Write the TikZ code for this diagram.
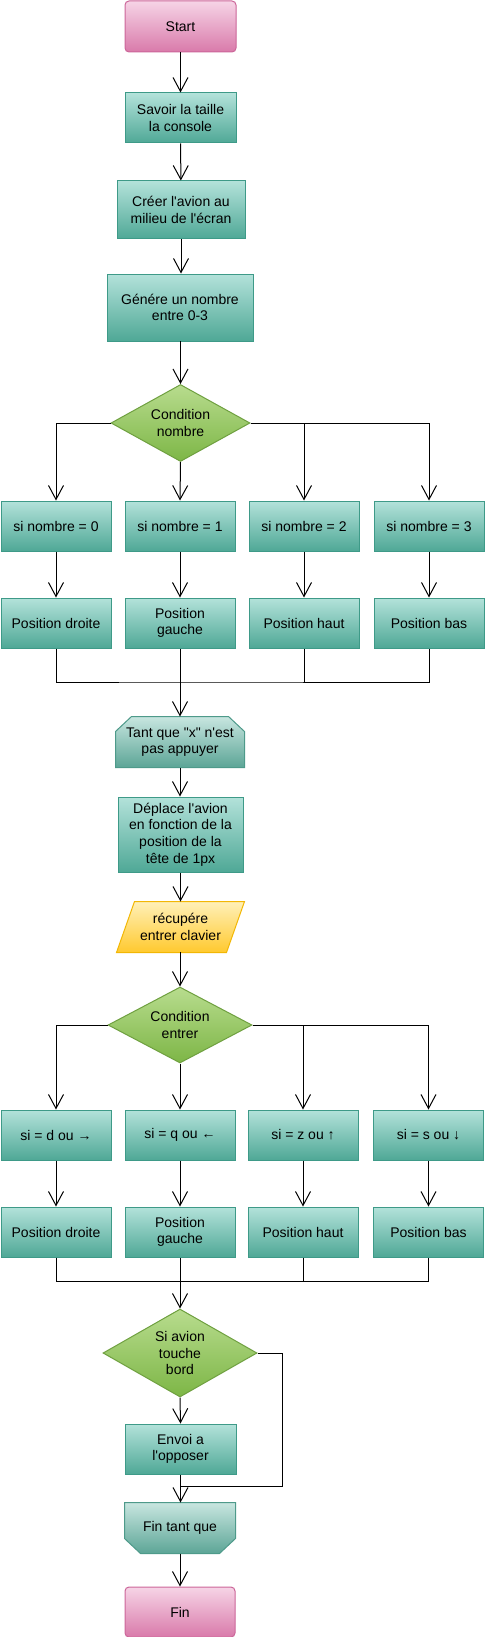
\documentclass[tikz,border=0pt]{standalone}
\usepackage{fontspec}
\setmainfont{Liberation Sans}
\usetikzlibrary{arrows.meta,shapes.geometric}
\pgfdeclarelayer{bg}
\pgfsetlayers{bg,main}
\definecolor{procT}{HTML}{B3E2DA}
\definecolor{procBot}{HTML}{4FA896}
\definecolor{procB}{HTML}{3E9A88}
\definecolor{termT}{HTML}{F6D4E6}
\definecolor{termBot}{HTML}{D97AAA}
\definecolor{termB}{HTML}{CC6699}
\definecolor{decT}{HTML}{B8DC8E}
\definecolor{decBot}{HTML}{7DB646}
\definecolor{decB}{HTML}{6FA040}
\definecolor{ioT}{HTML}{FFF0B8}
\definecolor{ioBot}{HTML}{FFC92E}
\definecolor{ioB}{HTML}{F2B705}
\definecolor{loopT}{HTML}{C8E6E0}
\definecolor{loopBot}{HTML}{5CA596}
\definecolor{loopB}{HTML}{4E9A8A}
\newcommand{\fsz}{\fontsize{10.5pt}{12.4pt}\selectfont}
\newcommand{\apo}{\textquotesingle}
\tikzset{
 sz/.style 2 args={minimum width=#1*0.75pt, minimum height=#2*0.75pt},
 base/.style={inner sep=0pt, align=center, font=\fsz, line width=0.75pt},
 proc/.style={base, rectangle, draw=procB, top color=procT, bottom color=procBot},
 term/.style={base, rectangle, rounded corners=3pt, draw=termB, top color=termT, bottom color=termBot},
 dec/.style={base, diamond, draw=decB, top color=decT, bottom color=decBot},
 lbl/.style={base, rectangle},
 loopsh/.style={line width=0.75pt, draw=loopB, top color=loopT, bottom color=loopBot},
 iosh/.style={line width=0.75pt, draw=ioB, top color=ioT, bottom color=ioBot},
 flow/.style={line width=0.75pt, -{Straight Barb[length=10.5pt,width=11.25pt]}},
 link/.style={line width=0.75pt},
}
\begin{document}
\begin{tikzpicture}[x=0.75pt,y=-0.75pt]
\useasboundingbox (0,0) rectangle (485,1637);
% top part
\node[term, sz={111}{51}] (start) at (180.5,26.5) {Start};
\node[proc, sz={111}{50}] (savoir) at (180.5,118) {Savoir la taille\\la console};
\node[proc, sz={128}{58}] (creer) at (181,210) {Créer l\apo avion au\\milieu de l\apo écran};
\node[proc, sz={146}{67}] (genere) at (180,307.5) {Génére un nombre\\entre 0-3};
\node[dec, sz={139}{77}, aspect=1.8] (cond1) at (180.5,423) {Condition\\nombre};
% si nombre row
\node[proc, sz={110}{50}] (a0) at (56,526) {si nombre = 0};
\node[proc, sz={110}{50}] (a1) at (180,526) {si nombre = 1};
\node[proc, sz={110}{50}] (a2) at (304,526) {si nombre = 2};
\node[proc, sz={110}{50}] (a3) at (429,526) {si nombre = 3};
\node[proc, sz={110}{50}] (p0) at (56,623) {Position droite};
\node[proc, sz={110}{50}] (p1) at (180,623) {Position\\gauche};
\node[proc, sz={110}{50}] (p2) at (304,623) {Position haut};
\node[proc, sz={110}{50}] (p3) at (429,623) {Position bas};
\coordinate (m1) at (180,682);
% loop
\node[lbl, sz={128}{50}] (tant) at (180,742) {Tant que \textquotedbl x\textquotedbl\ n\apo est\\pas appuyer};
\node[proc, sz={125}{75}] (deplace) at (180.5,834.5) {Déplace l\apo avion\\en fonction de la\\position de la\\tête de 1px};
\node[lbl, sz={127}{50}] (recup) at (180.5,927) {récupére\\entrer clavier};
\node[dec, sz={144}{76}, aspect=1.9] (cond2) at (180,1025) {Condition\\entrer};
\node[proc, sz={110}{50}] (b0) at (56,1135) {si = d ou →};
\node[proc, sz={110}{50}] (b1) at (180,1135) {si = q ou ←};
\node[proc, sz={110}{50}] (b2) at (303,1135) {si = z ou ↑};
\node[proc, sz={110}{50}] (b3) at (428.5,1135) {si = s ou ↓};
\node[proc, sz={110}{50}] (q0) at (56,1232) {Position droite};
\node[proc, sz={110}{50}] (q1) at (180,1232) {Position\\gauche};
\node[proc, sz={110}{50}] (q2) at (303,1232) {Position haut};
\node[proc, sz={110}{50}] (q3) at (428.5,1232) {Position bas};
\coordinate (m2) at (180,1281);
\node[dec, sz={154}{88}, aspect=1.75] (touche) at (180,1353) {Si avion\\touche\\bord};
\node[proc, sz={111}{50}] (envoi) at (180.5,1449) {Envoi a\\l\apo opposer};
\coordinate (lp) at (282,1486);
\coordinate (lj) at (180.5,1486);
\node[lbl, sz={110}{50}] (fintq) at (180,1528) {Fin tant que};
\node[term, sz={110}{50}] (fin) at (180,1612) {Fin};
% custom shapes
\begin{pgfonlayer}{bg}
\fill[white] (0,0) rectangle (485,1637);
\path[loopsh] ([xshift=12pt]tant.north west) -- ([xshift=-12pt]tant.north east) -- ([yshift=-11.25pt]tant.north east) -- (tant.south east) -- (tant.south west) -- ([yshift=-11.25pt]tant.north west) -- cycle;
\path[iosh] (recup.south west) -- ([xshift=-13.5pt]recup.south east) -- (recup.north east) -- ([xshift=13.5pt]recup.north west) -- cycle;
\path[loopsh] (fintq.north west) -- (fintq.north east) -- ([yshift=11.25pt]fintq.south east) -- ([xshift=-12pt]fintq.south east) -- ([xshift=12pt]fintq.south west) -- ([yshift=11.25pt]fintq.south west) -- cycle;
\end{pgfonlayer}
% connectors
\draw[flow] (start) -- (savoir);
\draw[flow] (savoir) -- (creer);
\draw[flow] (creer.south) -- (creer.south |- genere.north);
\draw[flow] (genere.south) -- (genere.south -| cond1.north) -- (cond1.north);
\draw[flow] (cond1.west) -| (a0.north);
\draw[flow] (cond1.south) -- (a1.north);
\draw[flow] (cond1.east) -| (a2.north);
\draw[flow] (cond1.east) -| (a3.north);
\draw[flow] (a0) -- (p0);
\draw[flow] (a1) -- (p1);
\draw[flow] (a2) -- (p2);
\draw[flow] (a3) -- (p3);
\draw[link] (p0.south) |- (m1) -| (p3.south);
\draw[link] (p2.south) -- (p2.south |- m1);
\draw[flow] (p1.south) -- (tant.north);
\draw[flow] (tant.south) -- (tant.south |- deplace.north);
\draw[flow] (deplace.south) -- (recup.north);
\draw[flow] (recup.south) -- (recup.south -| cond2.north) -- (cond2.north);
\draw[flow] (cond2.west) -| (b0.north);
\draw[flow] (cond2.south) -- (b1.north);
\draw[flow] (cond2.east) -| (b2.north);
\draw[flow] (cond2.east) -| (b3.north);
\draw[flow] (b0) -- (q0);
\draw[flow] (b1) -- (q1);
\draw[flow] (b2) -- (q2);
\draw[flow] (b3) -- (q3);
\draw[link] (q0.south) |- (m2) -| (q3.south);
\draw[link] (q2.south) -- (q2.south |- m2);
\draw[flow] (q1.south) -- (touche.north);
\draw[flow] (touche.south) -- (envoi.north);
\draw[link] (touche.east) -| (lp) -- (lj);
\draw[flow] (envoi.south) -- (envoi.south |- fintq.north);
\draw[flow] (fintq) -- (fin);
\end{tikzpicture}
\end{document}
